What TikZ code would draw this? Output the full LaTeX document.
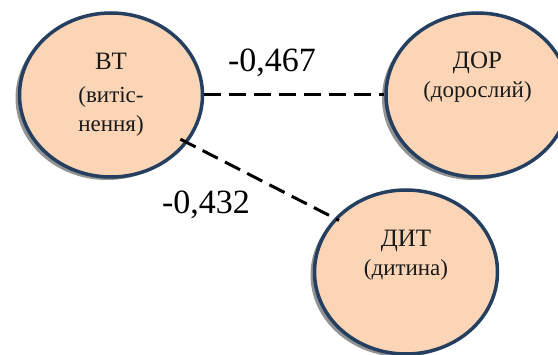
\documentclass[tikz,border=0pt]{standalone}
\usepackage{fontspec}
\setmainfont{Liberation Serif}
\usetikzlibrary{shapes}
\usetikzlibrary{positioning}
\usetikzlibrary{shadows}
\definecolor{peach}{HTML}{FBD5B5}
\definecolor{rimblue}{HTML}{243F60}
\newcommand{\headfnt}{\fontsize{25}{30}\selectfont}

\begin{document}
\begin{tikzpicture}[x=1pt, y=-1pt,
            node distance = 180pt,
            factor/.style = {ellipse,draw=rimblue,line width=3.5pt,fill=peach,
                minimum width=183pt,minimum height=164pt,inner sep=0pt,
                general shadow={fill=gray!85,shadow xshift=-4pt,shadow yshift=-3pt}},
            caption/.style = {font=\fontsize{23}{29}\selectfont,align=center,text=black!90},
            link/.style = {draw,line width=3pt,dash pattern=on 17pt off 8pt},
            weight/.style = {font=\fontsize{34}{38}\selectfont}]
            \useasboundingbox (0,0) rectangle (558,355);
            \node[factor] (bt) at (111,95) {};
            \node[factor,right=of bt] (dor) {};
            \node[factor] (dit) at (406,272) {};
            \node[caption] (btcap) at (bt.center) {{\headfnt ВТ}\\[4pt](витіс-\\нення)};
            \node[caption] (dorcap) at ([yshift=18pt]dor.center) {{\headfnt ДОР}\\(дорослий)};
            \node[caption] (ditcap) at ([yshift=17pt]dit.center) {{\headfnt ДИТ}\\(дитина)};
            \path[link]
                (bt) -- (dor);
            \path[link,shorten <=-8pt,shorten >=-5pt]
                (bt.-32) -- (dit.143);
            \node[weight] (w1) at (272,63) {-0,467};
            \node[weight] (w2) at (206,205) {-0,432};
        \end{tikzpicture}
\end{document}
